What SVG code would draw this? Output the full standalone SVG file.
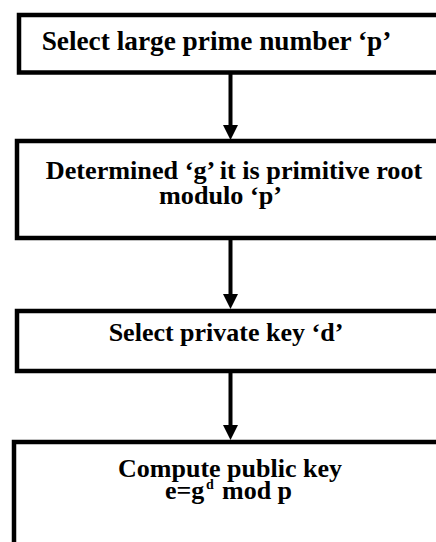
<svg xmlns="http://www.w3.org/2000/svg" width="436" height="542" viewBox="0 0 436 542">
<style>
.box{fill:#fff;stroke:#000;stroke-width:4.5}
.t{font-family:"Liberation Serif","Times New Roman",serif;font-weight:bold;font-size:26px;fill:#000;text-anchor:middle}
.sup{font-family:"Liberation Serif","Times New Roman",serif;font-weight:bold;font-size:14px;fill:#000}
.conn{stroke:#000;stroke-width:4;fill:none;marker-end:url(#ah)}
</style>
<defs>
<marker id="ah" markerUnits="userSpaceOnUse" markerWidth="16" markerHeight="16" refX="0" refY="7.5" orient="auto" overflow="visible">
<path d="M0,0 L15,7.5 L0,15 z" fill="#000"/>
</marker>
</defs>
<rect width="436" height="542" fill="#fff"/>
<g id="connectors">
<line class="conn" x1="230.5" y1="73" x2="230.5" y2="125"/>
<line class="conn" x1="230.5" y1="239" x2="230.5" y2="294"/>
<line class="conn" x1="230.5" y1="372" x2="230.5" y2="425"/>
</g>
<g id="n1">
<rect class="box" x="19" y="15" width="440" height="57.5"/>
<text class="t" x="216.5" y="50" style="font-size:27.3px">Select large prime number ‘p’</text>
</g>
<g id="n2">
<rect class="box" x="17" y="141" width="440" height="97"/>
<text class="t" x="234" y="179" style="font-size:26.2px">Determined ‘g’ it is primitive root</text>
<text class="t" x="220.5" y="204" style="font-size:26.2px">modulo ‘p’</text>
</g>
<g id="n3">
<rect class="box" x="17" y="311" width="440" height="60"/>
<text class="t" x="226" y="341">Select private key ‘d’</text>
</g>
<g id="n4">
<rect class="box" x="14" y="442" width="440" height="200"/>
<text class="t" x="230" y="477">Compute public key</text>
<text class="t" x="165" y="499" style="text-anchor:start">e=g</text>
<text class="sup" x="206" y="489">d</text>
<text class="t" x="222" y="499" style="text-anchor:start">mod p</text>
</g>
</svg>
